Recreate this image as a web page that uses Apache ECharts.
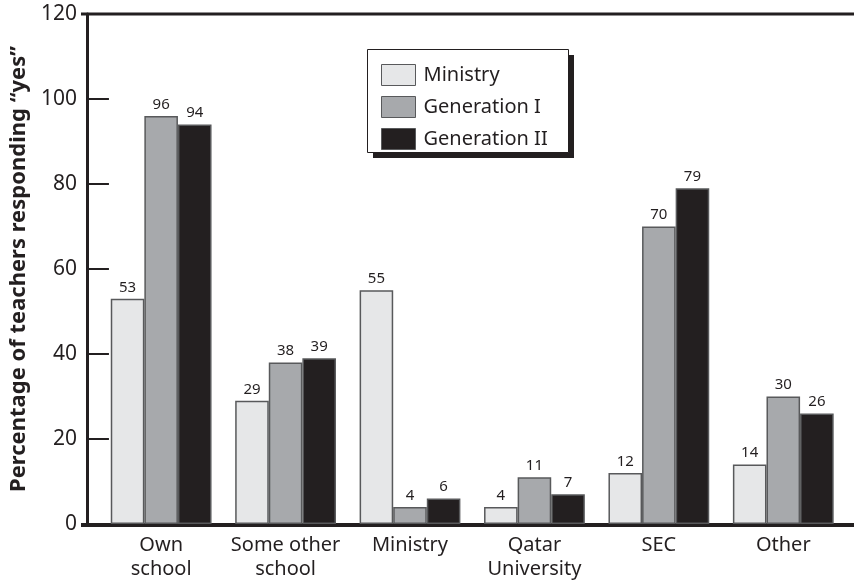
<!DOCTYPE html>
<html>
<head>
<meta charset="utf-8">
<script src="https://cdn.jsdelivr.net/npm/echarts@6/dist/echarts.min.js"></script>
<style>
html,body{margin:0;padding:0;background:#fff;}
#chart{width:854px;height:583px;}
</style>
</head>
<body>
<div id="chart"></div>
<script>
const categories = ['Own\nschool', 'Some other\nschool', 'Ministry', 'Qatar\nUniversity', 'SEC', 'Other'];
const ministry = [53, 29, 55, 4, 12, 14];
const generation1 = [96, 38, 4, 11, 70, 30];
const generation2 = [94, 39, 6, 7, 79, 26];
const yTicks = { min: 0, max: 120, interval: 20 };

const FONT = '"Noto Sans", "Open Sans", sans-serif';
const INK = '#231f20';
const chart = echarts.init(document.getElementById('chart'));

function bar(name, data, color) {
  return {
    name: name,
    type: 'bar',
    data: data,
    barGap: '0%',
    barCategoryGap: '19%',
    itemStyle: { color: color, borderColor: '#58595b', borderWidth: 1.5 },
    label: { show: true, position: 'top', distance: 4, color: INK, fontSize: 15, fontFamily: FONT },
    emphasis: { disabled: true }
  };
}

chart.setOption({
  animation: false,
  backgroundColor: '#fff',
  grid: { left: 94, right: 8.5, top: 14, bottom: 59, containLabel: false },
  legend: {
    orient: 'vertical',
    left: 381,
    top: 64,
    padding: 0,
    icon: 'rect',
    itemWidth: 34,
    itemHeight: 21,
    itemGap: 10,
    itemStyle: { borderColor: '#58595b', borderWidth: 1 },
    textStyle: { fontSize: 20, color: INK, fontFamily: FONT, padding: [0, 0, 0, 3] },
    data: ['Ministry', 'Generation I', 'Generation II']
  },
  xAxis: {
    type: 'category',
    data: categories,
    axisLine: { show: false },
    axisTick: { show: false },
    axisLabel: { interval: 0, color: INK, fontSize: 20, fontFamily: FONT, lineHeight: 24, margin: 9 }
  },
  yAxis: {
    type: 'value',
    min: yTicks.min,
    max: yTicks.max,
    interval: yTicks.interval,
    offset: 12,
    splitLine: { show: false },
    axisLine: { show: true, lineStyle: { color: INK, width: 3 } },
    axisTick: { show: true, inside: true, length: 22, lineStyle: { color: INK, width: 2 } },
    axisLabel: { color: INK, fontSize: 21, fontFamily: FONT, margin: 10 },
    name: 'Percentage of teachers responding \u201cyes\u201d',
    nameLocation: 'middle',
    nameGap: 51,
    nameTextStyle: { fontSize: 22, fontWeight: 'bold', color: INK, fontFamily: FONT }
  },
  graphic: [
    { type: 'line', shape: { x1: 81, y1: 14, x2: 854, y2: 14 }, style: { stroke: INK, lineWidth: 3 } },
    { type: 'line', shape: { x1: 81, y1: 525, x2: 854, y2: 525 }, style: { stroke: INK, lineWidth: 4 } },
    { type: 'rect', z: 0, shape: { x: 373, y: 55, width: 201, height: 103 }, style: { fill: INK } },
    { type: 'rect', z: 1, shape: { x: 367.5, y: 49.5, width: 201, height: 103 }, style: { fill: '#fff', stroke: INK, lineWidth: 1 } }
  ],
  series: [
    bar('Ministry', ministry, '#e6e7e8'),
    bar('Generation I', generation1, '#a7a9ac'),
    bar('Generation II', generation2, INK)
  ]
});
</script>
</body>
</html>
